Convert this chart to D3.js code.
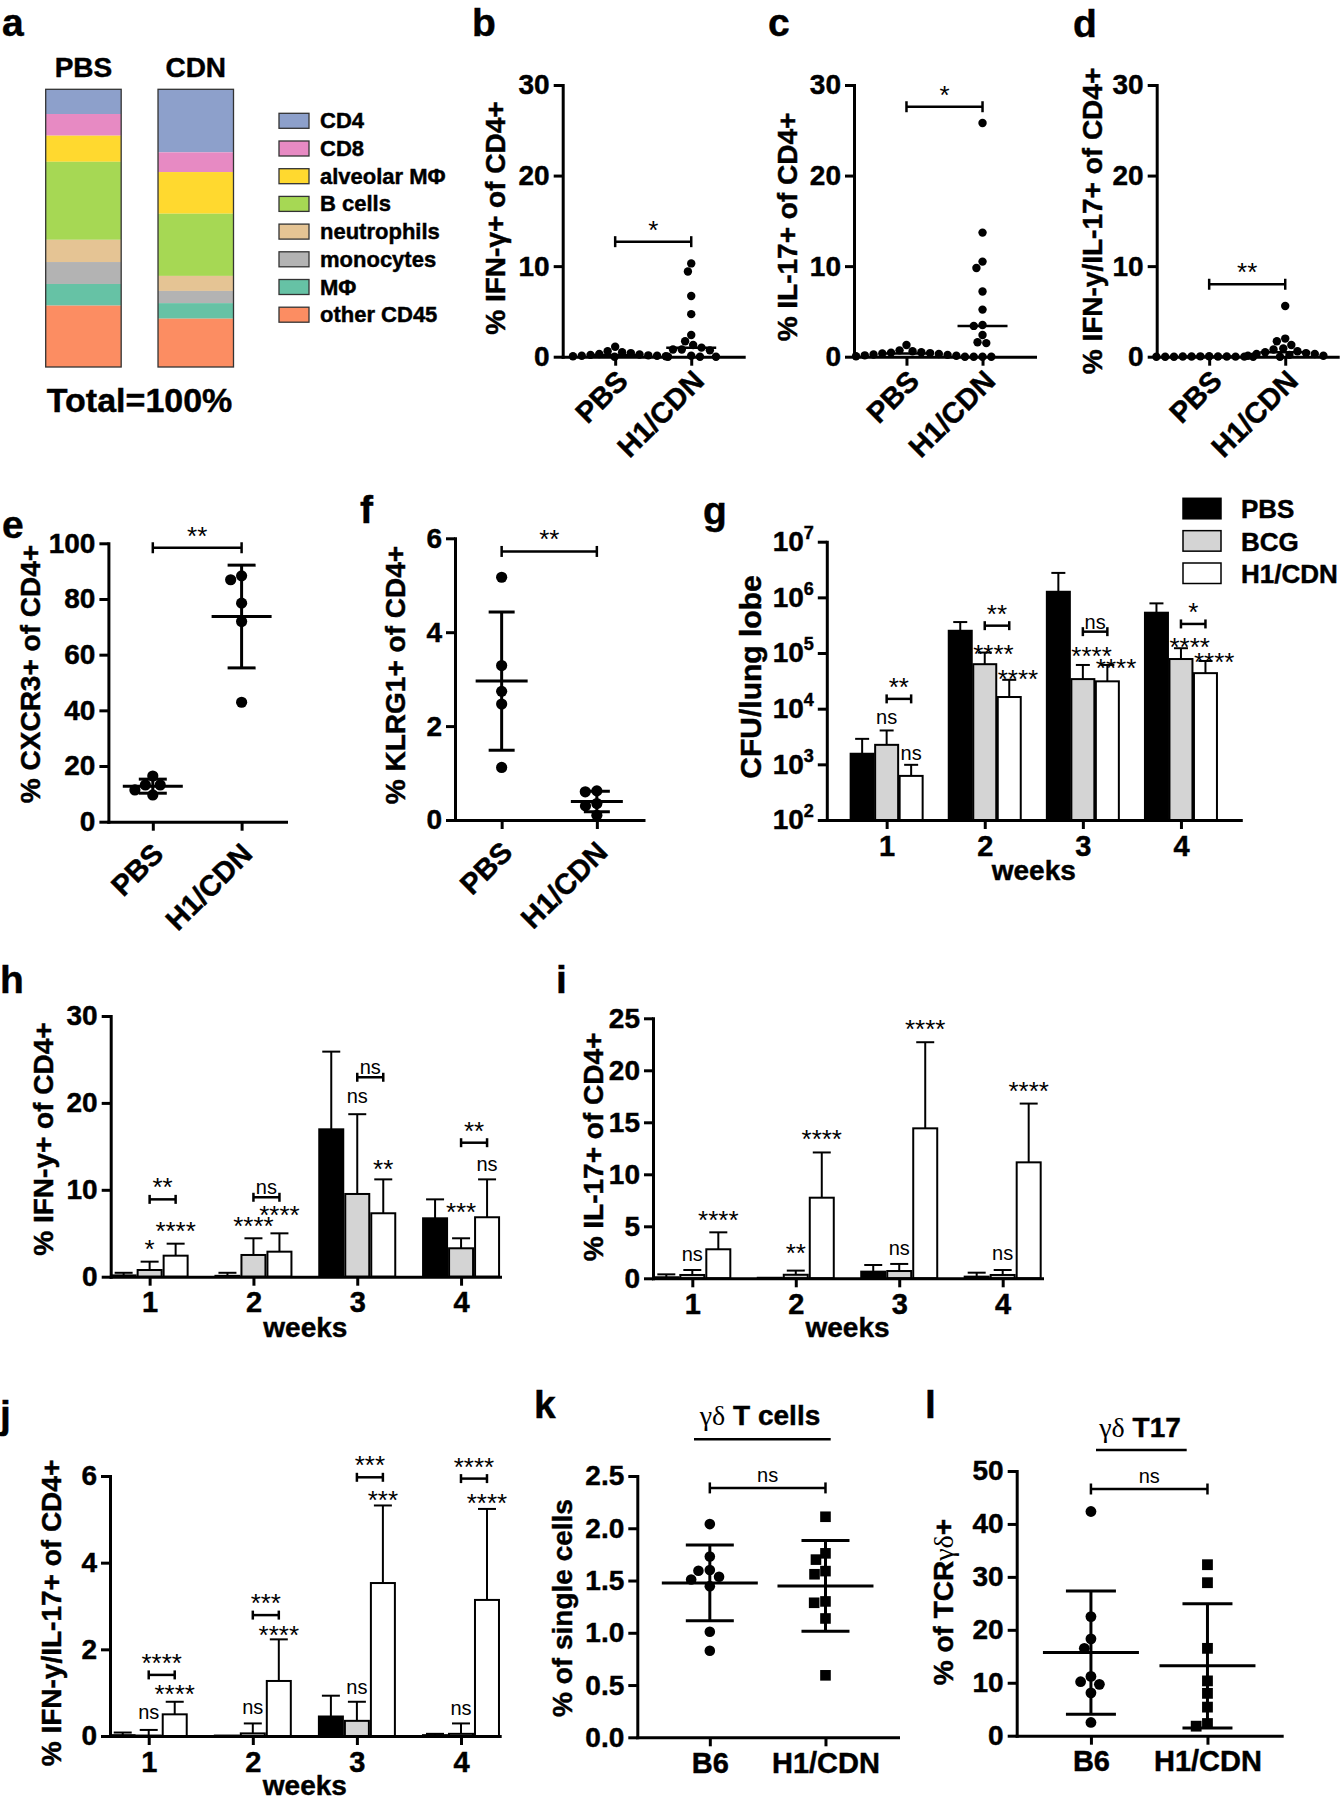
<!DOCTYPE html>
<html><head><meta charset="utf-8">
<script src="https://cdn.jsdelivr.net/npm/d3@7"></script>
<style>
body{margin:0;background:#fff;}
</style></head><body>
<svg id="fig" width="1340" height="1800"></svg>
<script>
// ================= DATA =================
// panel a: composition of lung CD45+ cells (percent of total)
const cellTypes = ["CD4","CD8","alveolar MΦ","B cells","neutrophils","monocytes","MΦ","other CD45"];
const cellColors = ["#8da0cb","#e78ac3","#ffd92f","#a6d854","#e5c494","#b3b3b3","#66c2a5","#fc8d62"];
const compositionGroups = ["PBS","CDN"];
const compositionPBS = [8.9, 7.8, 9.4, 28.1, 8.0, 7.9, 7.8, 22.1];
const compositionCDN = [22.7, 7.1, 15.0, 22.4, 5.4, 4.4, 5.6, 17.4];

// panels b-f: individual animals
const scatterGroups = ["PBS","H1/CDN"];
const ifngPBS = [1.1,0.6,0.5,0.4,0.3,0.25,0.2,0.15,0.1,0.1,0.05,0.05,0.0];
const ifngH1  = [10.3,9.4,6.7,4.7,2.4,1.7,1.3,1.0,0.8,0.8,0.7,0.1,0.0,0.0,0.0];
const il17PBS = [1.3,0.7,0.6,0.5,0.45,0.4,0.35,0.3,0.25,0.2,0.15,0.1,0.05];
const il17H1  = [25.8,13.7,10.5,9.8,7.2,5.2,3.5,3.4,2.4,1.6,1.5,0.0,0.0,0.0,0.0];
const dpPBS   = [0.05,0.04,0.03,0.03,0.02,0.02,0.01,0.01,0.0,0.0,0.0,0.0];
const dpH1    = [5.6,2.0,1.7,1.3,0.9,0.8,0.6,0.5,0.4,0.3,0.3,0.2,0.1,0.1,0.0];
const cxcr3PBS = [16.4,9.6,13.2,11.4,13.2];
const cxcr3H1  = [88.3,86.9,78.5,71.9,42.9];
const klrg1PBS = [5.17,3.29,2.74,2.47,1.12];
const klrg1H1  = [0.62,0.60,0.35,0.30,0.10];

// panels g-j: weekly means and SD
const weeks = ["1","2","3","4"];
const treatments = ["PBS","BCG","H1/CDN"];
const cfuPBS = [1550, 251000, 1260000, 530000];
const cfuPBSsd = [1320, 109000, 1490000, 250000];
const cfuBCG = [2240, 63000, 34000, 78000];
const cfuBCGsd = [1820, 39000, 27000, 44000];
const cfuH1 = [620, 16200, 31000, 43500];
const cfuH1sd = [360, 16800, 30000, 28500];

const ifnPBS = [0.15, 0.1, 16.96, 6.72];
const ifnPBSsd = [0.3, 0.35, 8.94, 2.18];
const ifnBCG = [0.77, 2.5, 9.52, 3.27];
const ifnBCGsd = [0.96, 1.92, 9.18, 1.15];
const ifnH1 = [2.42, 2.88, 7.3, 6.84];
const ifnH1sd = [1.38, 2.11, 3.9, 4.36];

const il17wPBS = [0.1, 0.05, 0.64, 0.16];
const il17wPBSsd = [0.28, 0, 0.64, 0.38];
const il17wBCG = [0.32, 0.34, 0.7, 0.32];
const il17wBCGsd = [0.48, 0.4, 0.68, 0.48];
const il17wH1 = [2.79, 7.75, 14.42, 11.15];
const il17wH1sd = [1.63, 4.35, 8.28, 5.65];

const dpwPBS = [0.02, 0.01, 0.45, 0.02];
const dpwPBSsd = [0.06, 0, 0.48, 0.03];
const dpwBCG = [0.01, 0.06, 0.35, 0.05];
const dpwBCGsd = [0.13, 0.23, 0.44, 0.24];
const dpwH1 = [0.5, 1.27, 3.53, 3.14];
const dpwH1sd = [0.29, 0.96, 1.79, 2.1];

// significance labels (level = axis value of label centre)
const sigCFU = [
 {week:0,bar:1,text:"ns",level:6750},{week:0,bar:2,text:"ns",level:1480},
 {week:1,bar:1,text:"****",level:122000},{week:1,bar:2,text:"****",level:43400},
 {week:2,bar:1,text:"****",level:114000},{week:2,bar:2,text:"****",level:67300},
 {week:3,bar:1,text:"****",level:160000},{week:3,bar:2,text:"****",level:86100}];
const bracketCFU = [{week:0,text:"**",level:15000},{week:1,text:"**",level:310000},{week:2,text:"ns",level:242000},{week:3,text:"*",level:333000}];
const sigIFN = [
 {week:0,bar:1,text:"*",level:3.84},{week:0,bar:2,text:"****",level:5.95},
 {week:1,bar:1,text:"****",level:6.52},{week:1,bar:2,text:"****",level:7.76},
 {week:2,bar:1,text:"ns",level:20.64},{week:2,bar:2,text:"**",level:13.05},
 {week:3,bar:1,text:"***",level:8.06},{week:3,bar:2,text:"ns",level:12.74}];
const bracketIFN = [{week:0,text:"**",level:8.9},{week:1,text:"ns",level:9.14},{week:2,text:"ns",level:22.95},{week:3,text:"**",level:15.42}];
const sigIL17 = [
 {week:0,bar:1,text:"ns",level:2.14},{week:0,bar:2,text:"****",level:6.18},
 {week:1,bar:1,text:"**",level:2.98},{week:1,bar:2,text:"****",level:14.0},
 {week:2,bar:1,text:"ns",level:2.79},{week:2,bar:2,text:"****",level:24.5},
 {week:3,bar:1,text:"ns",level:2.24},{week:3,bar:2,text:"****",level:18.6}];
const bracketIL17 = [];
const sigDP = [
 {week:0,bar:1,text:"ns",level:0.51},{week:0,bar:2,text:"****",level:1.1},
 {week:1,bar:1,text:"ns",level:0.64},{week:1,bar:2,text:"****",level:2.46},
 {week:2,bar:1,text:"ns",level:1.1},{week:2,bar:2,text:"***",level:5.58},
 {week:3,bar:1,text:"ns",level:0.62},{week:3,bar:2,text:"****",level:5.5}];
const bracketDP = [{week:0,text:"****",level:1.41},{week:1,text:"***",level:2.79},{week:2,text:"***",level:5.97},{week:3,text:"****",level:5.94}];

// panels k-l
const gdGroups = ["B6","H1/CDN"];
const gdB6 = [2.04,1.73,1.60,1.594,1.536,1.51,1.446,1.01,0.828];
const gdH1 = [2.11,1.76,1.70,1.59,1.56,1.30,1.287,1.137,0.593];
const gd17B6 = [42.35,22.5,18.3,16.5,11.2,10.2,9.7,8.1,2.5];
const gd17H1 = [32.3,28.9,16.5,10.35,8.0,5.4,2.3,1.8];

// ================= DRAWING =================
const FONT = "'Liberation Sans', Arial, Helvetica, sans-serif";
const SERIF = "'Liberation Serif', 'Times New Roman', 'DejaVu Serif', serif";
const svg = d3.select("#fig").attr("font-family", FONT);
svg.append("rect").attr("width",1340).attr("height",1800).attr("fill","#fff");

function txt(parent, x, y, s, fs, opts = {}) {
  return parent.append("text").attr("x", x).attr("y", y).attr("font-size", fs)
    .attr("font-weight", opts.bold === false ? "normal" : "bold")
    .attr("text-anchor", opts.anchor || "start").attr("font-family", opts.family || FONT)
    .attr("fill", "#000").text(s);
}
function seg(parent, x1, y1, x2, y2, w) {
  return parent.append("line").attr("x1", x1).attr("y1", y1).attr("x2", x2).attr("y2", y2)
    .attr("stroke", "#000").attr("stroke-width", w);
}
function yTitle(parts, cx, cy, fs) {
  const t = svg.append("text").attr("transform", `translate(${cx},${cy}) rotate(-90)`)
    .attr("text-anchor", "middle").attr("dy", "0.36em").attr("font-size", fs).attr("fill", "#000");
  parts.forEach(p => t.append("tspan").attr("font-family", p.serif ? SERIF : FONT)
    .attr("font-weight", p.serif ? "normal" : "bold").text(p.t));
}
function styleAxis(g, fs) {
  g.attr("font-family", FONT).attr("font-size", fs).attr("font-weight", "bold");
  g.select(".domain").attr("stroke", "#000").attr("stroke-width", 3).attr("stroke-linecap", "square");
  g.selectAll(".tick line").attr("stroke", "#000").attr("stroke-width", 3);
  g.selectAll(".tick text").attr("fill", "#000");
}
function panelLabel(s, x, y) { txt(svg, x, y, s, 39); }
function sigText(parent, x, yc, s, anchor) {
  const ast = s.includes("*");
  const fs = ast ? 26 : 20;
  return txt(parent, x, yc + (ast ? 0.57 : 0.27) * fs, s, fs, {bold: false, anchor: anchor || "middle"});
}

function swarmLayout(values, yScale, r, gap) {
  const d = 2 * r + gap;
  const items = values.map((v, i) => ({v, i, py: yScale(v), dx: 0}));
  const order = items.slice().sort((a, b) => a.py - b.py || a.i - b.i);
  const placed = [];
  for (const p of order) {
    const cands = [0];
    for (const q of placed) {
      const dy = Math.abs(q.py - p.py);
      if (dy < d) { const h = Math.sqrt(d * d - dy * dy); cands.push(q.dx + h, q.dx - h); }
    }
    cands.sort((a, b) => Math.abs(a) - Math.abs(b) || a - b);
    for (const c of cands) {
      if (placed.every(q => (q.dx - c) ** 2 + (q.py - p.py) ** 2 >= d * d - 0.01)) { p.dx = c; break; }
    }
    placed.push(p);
  }
  return items;
}

// ---------- panel a ----------
(function () {
  const g = svg.append("g");
  const x = d3.scaleBand().domain(compositionGroups).range([45.7, 233.5]).paddingInner(0.328).paddingOuter(0);
  const y = d3.scaleLinear().domain([0, 100]).range([89.3, 367]);
  const rows = [compositionPBS, compositionCDN].map((arr, gi) => {
    const o = {group: compositionGroups[gi]};
    cellTypes.forEach((c, i) => o[c] = arr[i]);
    return o;
  });
  const stack = d3.stack().keys(cellTypes)(rows);
  stack.forEach((layer, li) => {
    g.selectAll(null).data(layer).join("rect")
      .attr("x", d => x(d.data.group)).attr("width", x.bandwidth())
      .attr("y", d => y(d[0])).attr("height", d => y(d[1]) - y(d[0]))
      .attr("fill", cellColors[li]);
  });
  compositionGroups.forEach(gr => {
    g.append("rect").attr("x", x(gr)).attr("y", y(0)).attr("width", x.bandwidth()).attr("height", y(100) - y(0))
      .attr("fill", "none").attr("stroke", "#333").attr("stroke-width", 1.3);
    txt(g, x(gr) + x.bandwidth() / 2, 77, gr, 28, {anchor: "middle"});
  });
  const ly = d3.scalePoint().domain(cellTypes).range([113.3, 113.3 + 7 * 27.7]);
  cellTypes.forEach((c, i) => {
    g.append("rect").attr("x", 279).attr("y", ly(c)).attr("width", 30).attr("height", 15)
      .attr("fill", cellColors[i]).attr("stroke", "#333").attr("stroke-width", 1.3);
    txt(g, 320, ly(c) + 15, c, 22);
  });
  txt(g, 139.6, 412, "Total=100%", 34, {anchor: "middle"});
})();

// ---------- scatter panels ----------
function scatterPanel(o) {
  const g = svg.append("g").attr("transform", `translate(${o.x0},0)`);
  const y = d3.scaleLinear().domain(o.domain).range([o.yBot, o.yTop]);
  const x = d3.scalePoint().domain(o.groups).range([0, o.width]).padding(o.pad);
  o.series.forEach((vals, gi) => {
    const cx = x(o.groups[gi]);
    const pts = swarmLayout(vals, y, o.r, o.gap);
    if (o.shapes && o.shapes[gi] === "square") {
      g.selectAll(null).data(pts).join("rect")
        .attr("x", p => cx + p.dx - o.r).attr("y", p => p.py - o.r)
        .attr("width", 2 * o.r).attr("height", 2 * o.r).attr("fill", "#000");
    } else {
      g.selectAll(null).data(pts).join("circle")
        .attr("cx", p => cx + p.dx).attr("cy", p => p.py).attr("r", o.r).attr("fill", "#000");
    }
    if (o.summary === "median") {
      const m = d3.median(vals);
      seg(g, cx - o.hw, y(m), cx + o.hw, y(m), 2.5);
    } else {
      const m = d3.mean(vals), s = d3.deviation(vals);
      seg(g, cx - o.hw, y(m), cx + o.hw, y(m), 3);
      seg(g, cx, y(m - s), cx, y(m + s), 3);
      seg(g, cx - o.cw, y(m + s), cx + o.cw, y(m + s), 3);
      seg(g, cx - o.cw, y(m - s), cx + o.cw, y(m - s), 3);
    }
  });
  const ya = g.append("g").call(d3.axisLeft(y).tickValues(o.ticks).tickSize(9).tickSizeOuter(0)
    .tickPadding(4).tickFormat(o.fmt || d3.format("d")));
  styleAxis(ya, o.tfs || 28);
  const xa = g.append("g").attr("transform", `translate(0,${o.yBot})`)
    .call(d3.axisBottom(x).tickSize(9).tickSizeOuter(0).tickPadding(6));
  styleAxis(xa, 29);
  if (o.rotate) {
    xa.selectAll(".tick text").attr("x", 0).attr("y", 0).attr("dy", null).attr("text-anchor", "end")
      .attr("transform", `translate(${o.rotate[0]},${o.rotate[1]}) rotate(-45)`);
  }
  // significance bracket
  const yb = y(o.sig.level), x1 = x(o.groups[0]), x2 = x(o.groups[1]);
  seg(g, x1, yb, x2, yb, 2.5);
  seg(g, x1, yb - 5.5, x1, yb + 5.5, 2.5);
  seg(g, x2, yb - 5.5, x2, yb + 5.5, 2.5);
  const ast = o.sig.text.includes("*");
  txt(g, (x1 + x2) / 2, yb - (ast ? 3 : 6), o.sig.text, ast ? 26 : 20, {bold: false, anchor: "middle"});
  yTitle(o.title, o.titleX, o.titleY, 28);
}

scatterPanel({x0: 562.7, yTop: 85, yBot: 356.7, width: 181, pad: 0.69, domain: [0, 30], ticks: [0, 10, 20, 30],
  groups: scatterGroups, series: [ifngPBS, ifngH1], r: 4.2, gap: 0.4, summary: "median", hw: 25,
  rotate: [14, 26], sig: {level: 12.7, text: "*"}, title: [{t: "% IFN-γ+ of CD4+"}], titleX: 495, titleY: 218});
scatterPanel({x0: 854, yTop: 85, yBot: 356.7, width: 181, pad: 0.69, domain: [0, 30], ticks: [0, 10, 20, 30],
  groups: scatterGroups, series: [il17PBS, il17H1], r: 4.2, gap: 0.4, summary: "median", hw: 25,
  rotate: [14, 26], sig: {level: 27.6, text: "*"}, title: [{t: "% IL-17+ of CD4+"}], titleX: 787, titleY: 227});
scatterPanel({x0: 1156.7, yTop: 85, yBot: 356.7, width: 181, pad: 0.69, domain: [0, 30], ticks: [0, 10, 20, 30],
  groups: scatterGroups, series: [dpPBS, dpH1], r: 4.2, gap: 0.4, summary: "median", hw: 25,
  rotate: [14, 26], sig: {level: 8.0, text: "**"}, title: [{t: "% IFN-y/IL-17+ of CD4+"}], titleX: 1092, titleY: 221});
scatterPanel({x0: 108.4, yTop: 543.3, yBot: 821.7, width: 177.6, pad: 0.5, domain: [0, 100], ticks: [0, 20, 40, 60, 80, 100],
  groups: scatterGroups, series: [cxcr3PBS, cxcr3H1], r: 5.6, gap: 0.4, summary: "meansd", hw: 30, cw: 14,
  rotate: [12, 34], sig: {level: 98.4, text: "**"}, title: [{t: "% CXCR3+ of CD4+"}], titleX: 30, titleY: 674});
scatterPanel({x0: 455, yTop: 538.3, yBot: 820, width: 188.5, pad: 0.49, domain: [0, 6], ticks: [0, 2, 4, 6],
  groups: scatterGroups, series: [klrg1PBS, klrg1H1], r: 5.6, gap: 0.4, summary: "meansd", hw: 26, cw: 13,
  rotate: [12, 34], sig: {level: 5.72, text: "**"}, title: [{t: "% KLRG1+ of CD4+"}], titleX: 395, titleY: 675});
scatterPanel({x0: 637.3, yTop: 1476, yBot: 1737.3, width: 260.7, pad: 0.627, domain: [0, 2.5], ticks: [0, 0.5, 1, 1.5, 2, 2.5],
  fmt: d3.format(".1f"), groups: gdGroups, series: [gdB6, gdH1], shapes: ["circle", "square"], r: 5.3, gap: 0.8,
  summary: "meansd", hw: 48, cw: 24, sig: {level: 2.386, text: "ns"}, title: [{t: "% of single cells"}], titleX: 562, titleY: 1608});
scatterPanel({x0: 1016.7, yTop: 1471, yBot: 1735.7, width: 265, pad: 0.637, domain: [0, 50], ticks: [0, 10, 20, 30, 40, 50],
  groups: gdGroups, series: [gd17B6, gd17H1], shapes: ["circle", "square"], r: 5.4, gap: 0.8,
  summary: "meansd", hw: 48, cw: 25, sig: {level: 46.6, text: "ns"},
  title: [{t: "% of TCR"}, {t: "γδ", serif: true}, {t: "+"}], titleX: 943, titleY: 1602});

// titles k, l
(function () {
  const t1 = svg.append("text").attr("x", 760).attr("y", 1425).attr("text-anchor", "middle").attr("font-size", 28).attr("fill", "#000");
  t1.append("tspan").attr("font-family", SERIF).text("γδ");
  t1.append("tspan").attr("font-family", FONT).attr("font-weight", "bold").text(" T cells");
  seg(svg, 694, 1439.3, 830.7, 1439.3, 2.5);
  const t2 = svg.append("text").attr("x", 1140).attr("y", 1436.7).attr("text-anchor", "middle").attr("font-size", 28).attr("fill", "#000");
  t2.append("tspan").attr("font-family", SERIF).text("γδ");
  t2.append("tspan").attr("font-family", FONT).attr("font-weight", "bold").text(" T17");
  seg(svg, 1096, 1450, 1186.7, 1450, 2.5);
})();

// ---------- bar panels ----------
const FILLS = ["#000000", "#d4d4d4", "#ffffff"];
function barPanel(o) {
  const g = svg.append("g").attr("transform", `translate(${o.x0},0)`);
  const y = (o.log ? d3.scaleLog() : d3.scaleLinear()).domain(o.domain).range([o.yBot, o.yTop]);
  const x = d3.scalePoint().domain(weeks).range([0, o.width]).padding(o.pad);
  o.means.forEach((arr, s) => {
    arr.forEach((m, w) => {
      const cx = x(weeks[w]) + (s - 1) * o.step;
      const top = y(m);
      const sd = o.sds[s][w];
      if (sd > 0) {
        const et = y(m + sd);
        seg(g, cx, top, cx, et, 2);
        seg(g, cx - o.capW / 2, et, cx + o.capW / 2, et, 2);
      }
      g.append("rect").attr("x", cx - o.barW / 2).attr("y", top).attr("width", o.barW)
        .attr("height", Math.max(0, o.yBot - top)).attr("fill", FILLS[s])
        .attr("stroke", "#000").attr("stroke-width", 2);
    });
  });
  const yAxis = d3.axisLeft(y).tickValues(o.ticks).tickSize(9).tickSizeOuter(0).tickPadding(4);
  if (!o.log) yAxis.tickFormat(d3.format("d"));
  const ya = g.append("g").call(yAxis);
  styleAxis(ya, 28);
  if (o.log) {
    ya.selectAll(".tick text").each(function (d) {
      const t = d3.select(this); t.text("");
      t.append("tspan").text("10");
      t.append("tspan").attr("dy", -12).attr("font-size", 18).text(Math.round(Math.log10(d)));
    });
  }
  const xa = g.append("g").attr("transform", `translate(0,${o.yBot})`)
    .call(d3.axisBottom(x).tickSize(9).tickSizeOuter(0).tickPadding(6));
  styleAxis(xa, 29);
  o.sig.forEach(a => {
    const cx = x(weeks[a.week]) + (a.bar - 1) * o.step;
    if (o.alignStart && a.text.includes("*")) sigText(g, cx - o.barW / 2, y(a.level), a.text, "start");
    else sigText(g, cx, y(a.level), a.text);
  });
  o.brackets.forEach(b => {
    const x1 = x(weeks[b.week]), x2 = x1 + o.step, yb = y(b.level);
    seg(g, x1, yb, x2, yb, 2.5);
    seg(g, x1, yb - 4.5, x1, yb + 4.5, 2.5);
    seg(g, x2, yb - 4.5, x2, yb + 4.5, 2.5);
    const ast = b.text.includes("*");
    txt(g, (x1 + x2) / 2, yb - 3, b.text, ast ? 26 : 20, {bold: false, anchor: "middle"});
  });
  txt(g, o.width / 2, o.yBot + o.weeksDy, "weeks", 28, {anchor: "middle"});
  yTitle(o.title, o.titleX, o.titleY, o.titleFs || 28);
}

barPanel({x0: 826.8, yTop: 541.7, yBot: 820, width: 414, pad: 0.61, log: true, domain: [100, 1e7],
  ticks: [1e2, 1e3, 1e4, 1e5, 1e6, 1e7], means: [cfuPBS, cfuBCG, cfuH1], sds: [cfuPBSsd, cfuBCGsd, cfuH1sd],
  barW: 23, step: 24.5, capW: 14, sig: sigCFU, brackets: bracketCFU, alignStart: true, weeksDy: 60,
  title: [{t: "CFU/lung lobe"}], titleX: 750, titleY: 677, titleFs: 30});
barPanel({x0: 110.7, yTop: 1016, yBot: 1276.7, width: 389.3, pad: 0.375, domain: [0, 30], ticks: [0, 10, 20, 30],
  means: [ifnPBS, ifnBCG, ifnH1], sds: [ifnPBSsd, ifnBCGsd, ifnH1sd], weeksDy: 60,
  barW: 24, step: 26, capW: 18, sig: sigIFN, brackets: bracketIFN,
  title: [{t: "% IFN-y+ of CD4+"}], titleX: 43, titleY: 1139});
barPanel({x0: 653, yTop: 1018.3, yBot: 1278.3, width: 389, pad: 0.38, domain: [0, 25], ticks: [0, 5, 10, 15, 20, 25],
  means: [il17wPBS, il17wBCG, il17wH1], sds: [il17wPBSsd, il17wBCGsd, il17wH1sd], weeksDy: 58.5,
  barW: 24, step: 26, capW: 18, sig: sigIL17, brackets: bracketIL17,
  title: [{t: "% IL-17+ of CD4+"}], titleX: 593, titleY: 1147});
barPanel({x0: 110, yTop: 1476, yBot: 1736, width: 389.7, pad: 0.372, domain: [0, 6], ticks: [0, 2, 4, 6],
  means: [dpwPBS, dpwBCG, dpwH1], sds: [dpwPBSsd, dpwBCGsd, dpwH1sd], weeksDy: 59,
  barW: 24, step: 26, capW: 18, sig: sigDP, brackets: bracketDP,
  title: [{t: "% IFN-y/IL-17+ of CD4+"}], titleX: 51, titleY: 1613});

// legend g
(function () {
  const ly = d3.scalePoint().domain(treatments).range([498.3, 563]);
  treatments.forEach((t, i) => {
    svg.append("rect").attr("x", 1183).attr("y", ly(t)).attr("width", 38).attr("height", 20.5)
      .attr("fill", FILLS[i]).attr("stroke", "#000").attr("stroke-width", 1.5);
    txt(svg, 1241, ly(t) + 20, t, 26);
  });
})();

// panel letters
[["a", 2, 36], ["b", 472, 36], ["c", 768, 36], ["d", 1073, 37], ["e", 2, 538], ["f", 360, 523],
 ["g", 703, 524], ["h", 0, 993], ["i", 556, 993], ["j", 0, 1428], ["k", 534, 1418], ["l", 925, 1418]]
  .forEach(p => panelLabel(p[0], p[1], p[2]));

// heavier rendering of bold sans text, like the printed figure
svg.selectAll("text, tspan").each(function () {
  const cs = getComputedStyle(this);
  if (parseInt(cs.fontWeight) >= 700) d3.select(this).attr("stroke", "#000").attr("stroke-width", 0.45);
});
</script>
</body></html>
